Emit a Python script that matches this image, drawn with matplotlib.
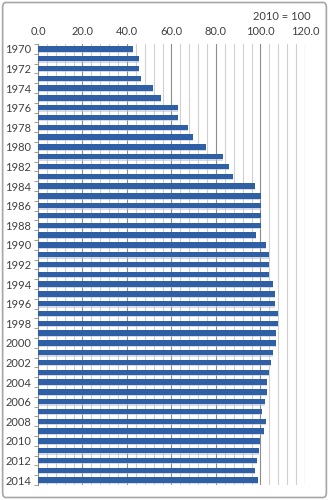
import numpy as np
import matplotlib.pyplot as plt
from matplotlib.patches import FancyBboxPatch
from matplotlib.ticker import MultipleLocator

plt.rcParams['font.family'] = ['Lato', 'DejaVu Sans']

# index values, 2010 = 100
years = list(range(1970, 2015))
values = [42.7, 45.4, 45.4, 46.3, 51.7, 55.3, 63.1, 63.1, 67.6, 69.7,
          75.4, 83.0, 85.8, 87.6, 97.7, 100.4, 100.4, 100.4, 100.4, 98.0,
          102.5, 103.7, 103.7, 103.7, 105.8, 106.7, 106.5, 107.7, 107.7, 107.1,
          106.8, 105.8, 104.9, 103.7, 102.9, 102.9, 102.1, 100.9, 102.4, 101.4,
          100.0, 99.2, 98.3, 97.6, 98.8]
xticks = [0, 20, 40, 60, 80, 100, 120]

fig = plt.figure(figsize=(3.29, 5.0), dpi=100)
fig.patches.append(FancyBboxPatch((0.008, 0.005), 0.984, 0.99,
                                  boxstyle="round,pad=0,rounding_size=0.01",
                                  transform=fig.transFigure, fill=False,
                                  edgecolor='#A6A6A6', linewidth=1.2))

ax = fig.add_axes([0.1155, 0.03, 0.8115, 0.882])
pos = np.arange(len(years))

# soft shadow under each bar
ax.barh(pos + 0.12, values, height=0.55, color='#B8C4D8', alpha=0.6, zorder=2)
ax.barh(pos, values, height=0.55, color='#2F5FA5', zorder=3)

ax.set_xlim(0, 120)
ax.set_ylim(len(years) - 0.5, -0.5)
ax.xaxis.tick_top()
ax.set_xticks(xticks)
ax.set_xticklabels([f"{v:.1f}" for v in xticks])
ax.xaxis.set_minor_locator(MultipleLocator(4))
ax.grid(axis='x', which='major', color='#8C8C8C', linewidth=0.8, zorder=0)
ax.grid(axis='x', which='minor', color='#D0D0D0', linewidth=0.8, zorder=0)
ax.tick_params(axis='x', which='both', length=0, pad=5, labelsize=8,
               labelcolor='#404040')

ax.set_yticks(pos[::2])
ax.set_yticklabels([str(y) for y in years[::2]])
ax.set_yticks(np.arange(-0.5, len(years), 1), minor=True)
ax.tick_params(axis='y', which='major', length=0, pad=5, labelsize=8,
               labelcolor='#404040')
ax.tick_params(axis='y', which='minor', length=3, color='#8C8C8C')

for s in ['top', 'right', 'bottom']:
    ax.spines[s].set_visible(False)
ax.spines['left'].set_color('#8C8C8C')

fig.text(0.945, 0.967, "2010 = 100", ha='right', va='center', fontsize=8,
         color='#404040')

fig.savefig('out.png', dpi=100)
